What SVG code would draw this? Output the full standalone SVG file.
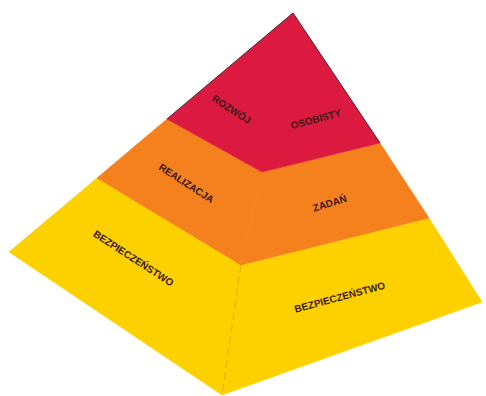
<svg xmlns="http://www.w3.org/2000/svg" width="486" height="396" viewBox="0 0 486 396">
<style>
.t{font-family:"Liberation Sans","DejaVu Sans",sans-serif;font-weight:bold;font-size:10px;fill:#3a1a1a;text-anchor:middle;dominant-baseline:middle}
.y{fill:#fdd000;stroke:#fdd000;stroke-width:0.6}
.o{fill:#f5801e;stroke:#f5801e;stroke-width:0.6}
.r{fill:#dc1a40;stroke:#dc1a40;stroke-width:0.6}
.edge{fill:none;stroke:#2a2a2a;stroke-width:0.8}
.front{fill:none;stroke:#c49c00;stroke-width:0.6;stroke-dasharray:8 4}
</style>
<rect width="486" height="396" fill="#ffffff"/>
<g id="bottom-level">
<polygon class="y" points="97,178 241,265 222,395 9,252"/>
<polygon class="y" points="241,265 429,218 482,302 222,395"/>
<line class="front" x1="241" y1="265" x2="222" y2="395"/>
<text class="t" transform="translate(133,259) rotate(33)">BEZPIECZEŃSTWO</text>
<text class="t" transform="translate(340,298) rotate(-15)">BEZPIECZEŃSTWO</text>
</g>
<g id="middle-level">
<polygon class="o" points="167,119 262,172 241,265 97,178"/>
<polygon class="o" points="262,172 380,143 429,218 241,265"/>
<text class="t" transform="translate(186,184) rotate(33)">REALIZACJA</text>
<text class="t" transform="translate(330,204) rotate(-17)">ZADAŃ</text>
</g>
<g id="top-level">
<polygon class="r" points="293,13 380,143 262,172 167,119"/>
<text class="t" transform="translate(231,110) rotate(33)">ROZWÓJ</text>
<text class="t" transform="translate(316,120) rotate(-15)">OSOBISTY</text>
</g>
<g id="connectors">
<polyline class="edge" points="167,119 293,13 380,143"/>
</g>
</svg>
